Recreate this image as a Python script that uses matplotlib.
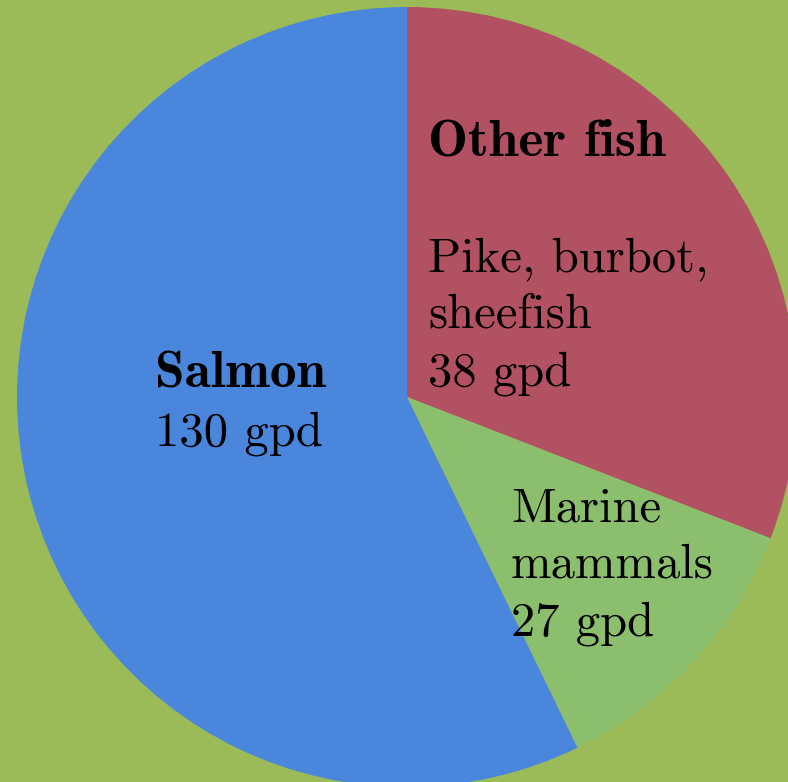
import matplotlib
matplotlib.use("Agg")
import matplotlib.pyplot as plt

# slice shares as drawn in the picture (angles)
categories = ["Other fish", "Marine mammals", "Salmon"]
shares = [30.9, 11.9, 57.2]
gpd = [38, 27, 130]
colors = ["#B15161", "#8CBF6D", "#4A86DC"]
bg = "#9BBB59"

W, H = 788, 782
fig = plt.figure(figsize=(W / 100, H / 100), dpi=100, facecolor=bg)
ax = fig.add_axes([0, 0, 1, 1])
ax.set_facecolor(bg)

ax.pie(shares, colors=colors, startangle=90, counterclock=False,
       radius=1.0, wedgeprops=dict(linewidth=0))

# pie centre sits at pixel (407, 397) with radius 390 px
cx, cy, r = 407, 397, 390
ax.set_xlim(-cx / r, (W - cx) / r)
ax.set_ylim(-(H - cy) / r, cy / r)
ax.set_aspect("auto")
ax.axis("off")


def px(x, y):
    return x / W, 1 - y / H


reg = dict(fontfamily="cmr10", fontsize=35, va="baseline", ha="left", color="black")
bold = dict(fontfamily="cmb10", fontsize=38.5, va="baseline", ha="left", color="black")

# Other fish
fig.text(*px(428, 155), categories[0], **bold)
fig.text(*px(428, 271), "Pike, burbot,", **reg)
fig.text(*px(428, 328), "sheefish", **reg)
fig.text(*px(428, 386), f"{gpd[0]} gpd", **reg)

# Marine mammals
fig.text(*px(511, 521), "Marine", **reg)
fig.text(*px(511, 578), "mammals", **reg)
fig.text(*px(511, 636), f"{gpd[1]} gpd", **reg)

# Salmon
fig.text(*px(155, 387), categories[2], **bold)
fig.text(*px(155, 445), f"{gpd[2]} gpd", **reg)

fig.savefig("out.png", dpi=100, facecolor=bg)
